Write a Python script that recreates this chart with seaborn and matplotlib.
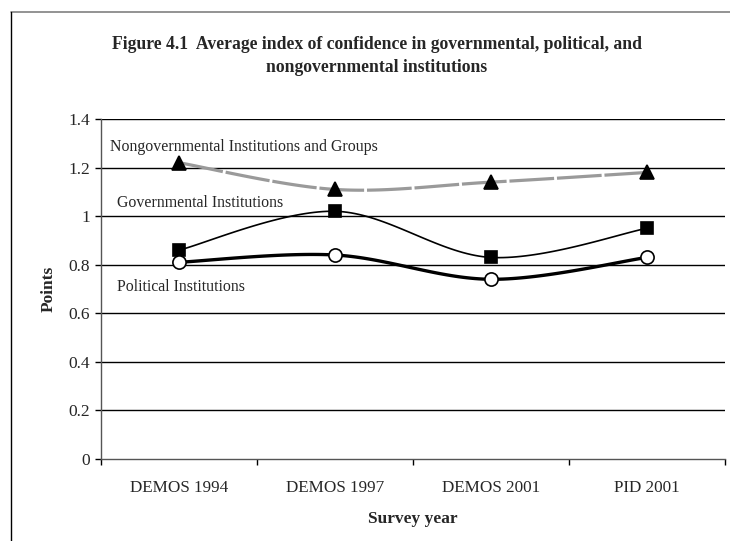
import numpy as np
import pandas as pd
import matplotlib
matplotlib.use("Agg")
import matplotlib.pyplot as plt
from matplotlib.lines import Line2D
import seaborn as sns

surveys = ["DEMOS 1994", "DEMOS 1997", "DEMOS 2001", "PID 2001"]
nongovernmental = [1.22, 1.11, 1.14, 1.18]
governmental = [0.86, 1.02, 0.83, 0.95]
political = [0.81, 0.84, 0.74, 0.83]
y_ticks = [0, 0.2, 0.4, 0.6, 0.8, 1.0, 1.2, 1.4]
y_tick_labels = ["0", "0.2", "0.4", "0.6", "0.8", "1", "1.2", "1.4"]

sns.set_theme(style="white")
plt.rcParams["font.family"] = ["Liberation Serif", "DejaVu Serif"]


def smooth(xs, ys, n=40):
    """Cubic Bezier smoothing through every point (Catmull-Rom style)."""
    p = np.column_stack([xs, ys]).astype(float)
    ext = np.vstack([p[0], p, p[-1]])
    out = []
    t = np.linspace(0, 1, n)[:, None]
    for i in range(len(p) - 1):
        p0, p3 = ext[i + 1], ext[i + 2]
        c1 = p0 + (ext[i + 2] - ext[i]) / 6.0
        c2 = p3 - (ext[i + 3] - ext[i + 1]) / 6.0
        seg = ((1 - t) ** 3) * p0 + 3 * ((1 - t) ** 2) * t * c1 \
            + 3 * (1 - t) * t ** 2 * c2 + t ** 3 * p3
        out.append(seg if i == 0 else seg[1:])
    return np.vstack(out)


W, H = 730, 541
fig = plt.figure(figsize=(W / 100, H / 100), dpi=100)
ax = fig.add_axes([101 / W, (H - 459) / H, (725 - 101) / W, (459 - 119) / H])

xpos = np.arange(len(surveys))
series = [
    ("Nongovernmental Institutions and Groups", nongovernmental,
     dict(color="#9a9a9a", lw=2.3, dashes=(14, 0.9)), "^", 10, "black"),
    ("Governmental Institutions", governmental,
     dict(color="black", lw=1.2), "s", 8, "black"),
    ("Political Institutions", political,
     dict(color="black", lw=2.4), "o", 9.5, "white"),
]

for name, vals, style, marker, msize, face in series:
    curve = smooth(xpos, vals)
    cdf = pd.DataFrame({"x": curve[:, 0], "y": curve[:, 1]})
    ls = style.pop("dashes", None)
    line = sns.lineplot(data=cdf, x="x", y="y", ax=ax, sort=False,
                        color=style["color"], linewidth=style["lw"], zorder=3)
    if ls is not None:
        line.get_lines()[-1].set_dashes(ls)
    pdf = pd.DataFrame({"x": xpos, "y": vals})
    ax.plot(pdf["x"], pdf["y"], linestyle="none", marker=marker,
            markersize=msize, markerfacecolor=face, markeredgecolor="black",
            markeredgewidth=1.2, zorder=4)

ax.set_xlim(-0.5, len(surveys) - 0.5)
ax.set_ylim(0, 1.4)
ax.set_yticks(y_ticks)
ax.set_yticklabels(y_tick_labels, fontsize=12.5)
ax.set_xticks(xpos)
ax.set_xticklabels(surveys, fontsize=12.3)
ax.set_xticks(np.arange(len(surveys) + 1) - 0.5, minor=True)
ax.tick_params(axis="x", which="major", length=0, pad=15)
ax.tick_params(axis="x", which="minor", length=4, width=1, color="black",
               direction="out", bottom=True)
ax.tick_params(axis="y", length=4, width=1, color="black", direction="out",
               left=True, pad=4)

for yv in y_ticks[1:]:
    ax.axhline(yv, color="black", lw=1.0, zorder=1)

for side in ["top", "right"]:
    ax.spines[side].set_visible(False)
ax.spines["left"].set_color("#555555")
ax.spines["bottom"].set_color("#555555")
ax.spines["left"].set_linewidth(1.0)
ax.spines["bottom"].set_linewidth(1.0)

ax.set_xlabel("Survey year", fontsize=12.5, fontweight="bold", labelpad=11)
ax.set_ylabel("Points", fontsize=12.5, fontweight="bold", labelpad=8)

label_pos = [(-0.44, 1.285), (-0.40, 1.054), (-0.40, 0.708)]
for (name, *_), (lx, ly) in zip(series, label_pos):
    ax.text(lx, ly, name, fontsize=11.4, ha="left", va="center", zorder=5)

fig.text(377 / W, 1 - 45 / H,
         "Figure 4.1  Average index of confidence in governmental, political, and",
         ha="center", va="center", fontsize=12.7, fontweight="bold")
fig.text(377 / W, 1 - 67 / H, "nongovernmental institutions",
         ha="center", va="center", fontsize=12.7, fontweight="bold")

# outer frame of the figure box
fig.add_artist(Line2D([11 / W, 1.0], [1 - 12 / H, 1 - 12 / H],
                      transform=fig.transFigure, color="#808080", lw=1.2))
fig.add_artist(Line2D([11 / W, 11 / W], [0, 1 - 12 / H],
                      transform=fig.transFigure, color="black", lw=1.0))

fig.savefig("out.png", dpi=100)
